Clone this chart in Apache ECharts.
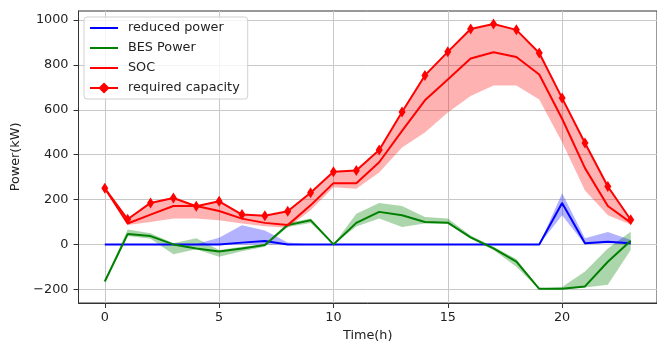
<!DOCTYPE html>
<html>
<head>
<meta charset="utf-8">
<script src="https://cdn.jsdelivr.net/npm/echarts@6/dist/echarts.min.js"></script>
<style>
  html, body { margin: 0; padding: 0; background: #fff; }
  #chart { width: 657px; height: 347px; }
</style>
</head>
<body>
<div id="chart"></div>
<script>
// hours of the day
const hours = [0, 1, 2, 3, 4, 5, 6, 7, 8, 9, 10, 11, 12, 13, 14, 15, 16, 17, 18, 19, 20, 21, 22, 23];

// reduced power (blue) and its band
const reducedPower = [0, 0, 0, 0, 0, 0, 8, 15, 0, 0, 0, 0, 0, 0, 0, 0, 0, 0, 0, 0, 185, 5, 12, 5];
const reducedLow = [0, 0, 0, 0, 0, 0, 0, 0, 0, 0, 0, 0, 0, 0, 0, 0, 0, 0, 0, 0, 130, 0, 5, 0];
const reducedHigh = [0, 0, 0, 0, 2, 30, 85, 62, 8, 0, 0, 0, 0, 0, 0, 0, 0, 0, 0, 0, 228, 28, 55, 20];

// BES power (green) and its band
const besPower = [-165, 46, 37, 0, -18, -32, -18, -3, 86, 108, 0, 96, 145, 130, 100, 97, 31, -18, -77, -198, -198, -187, -77, 16];
const besLow = [-168, 38, 25, -44, -22, -55, -30, -10, 78, 95, 0, 80, 115, 78, 93, 93, 25, -25, -99, -200, -200, -192, -180, -25];
const besHigh = [-160, 66, 50, 5, 27, -25, -10, 0, 95, 115, 0, 137, 185, 171, 122, 115, 40, -10, -65, -196, -190, -121, -18, 56];

// SOC (red) and required capacity (upper edge of the band)
const soc = [250, 93, 133, 171, 171, 149, 115, 96, 86, 174, 273, 273, 366, 506, 642, 735, 828, 856, 835, 757, 560, 340, 171, 97];
const socLow = [250, 86, 100, 115, 115, 108, 93, 81, 74, 152, 255, 248, 320, 432, 499, 588, 661, 708, 708, 646, 455, 240, 130, 89];
const requiredCapacity = [250, 112, 185, 207, 170, 192, 133, 128, 148, 230, 324, 329, 421, 590, 753, 858, 960, 982, 956, 853, 652, 452, 258, 110];

// tick labels
const xTicks = [0, 5, 10, 15, 20];
const yTicks = [-200, 0, 200, 400, 600, 800, 1000];

const font = "DejaVu Sans";
const pairs = arr => hours.map((h, i) => [h, arr[i]]);

function band(low, high, color) {
    return {
        type: "custom",
        silent: true,
        z: 1,
        data: [[0, 0]],
        renderItem: (params, api) => {
            const pts = [];
            hours.forEach((h, i) => pts.push(api.coord([h, high[i]])));
            for (let i = hours.length - 1; i >= 0; i--) {
                pts.push(api.coord([hours[i], low[i]]));
            }
            return {
                type: "polygon",
                shape: { points: pts },
                style: { fill: color }
            };
        }
    };
}

function line(name, arr, color, extra) {
    return Object.assign({
        type: "line",
        name: name,
        data: pairs(arr),
        showSymbol: false,
        symbol: "none",
        z: 3,
        lineStyle: { color: color, width: 2 },
        itemStyle: { color: color },
        emphasis: { disabled: true },
        animation: false
    }, extra || {});
}

// plain line in the legend, no marker
const noMark = { color: "rgba(0,0,0,0)", opacity: 0, borderWidth: 0 };

const chart = echarts.init(document.getElementById("chart"));
chart.setOption({
    animation: false,
    grid: {
        left: 78.5,
        top: 11,
        width: 590,
        height: 294,
        show: true,
        borderColor: "#333",
        borderWidth: 1,
        backgroundColor: "transparent"
    },
    legend: {
        left: 84,
        top: 17,
        orient: "vertical",
        padding: [4, 8, 4, 5],
        itemGap: 6,
        itemWidth: 28,
        itemHeight: 14,
        backgroundColor: "rgba(255,255,255,0.8)",
        borderColor: "#d0d0d0",
        borderWidth: 1,
        borderRadius: 3,
        textStyle: { fontFamily: font, fontSize: 12.8, color: "#222", lineHeight: 14, padding: [0, 0, 0, 5] },
        data: [
            { name: "reduced power", itemStyle: noMark },
            { name: "BES Power", itemStyle: noMark },
            { name: "SOC", itemStyle: noMark },
            { name: "required capacity" }
        ]
    },
    xAxis: {
        type: "value",
        min: -1.15,
        max: 24.15,
        name: "Time(h)",
        nameLocation: "middle",
        nameGap: 26,
        nameTextStyle: { fontFamily: font, fontSize: 12.8, color: "#222" },
        axisLine: { show: true, onZero: false, lineStyle: { color: "#333", width: 1 } },
        axisTick: { show: true, length: 5, customValues: xTicks, lineStyle: { color: "#333" } },
        axisLabel: { customValues: xTicks, margin: 8, fontFamily: font, fontSize: 12.8, color: "#222" },
        splitLine: { show: true, lineStyle: { color: "#c8c8c8", width: 1 } }
    },
    yAxis: {
        type: "value",
        min: -261,
        max: 1040,
        name: "Power(kW)",
        nameLocation: "middle",
        nameGap: 44,
        nameTextStyle: { fontFamily: font, fontSize: 12.8, color: "#222" },
        axisLine: { show: true, onZero: false, lineStyle: { color: "#333", width: 1 } },
        axisTick: { show: true, length: 5, customValues: yTicks, lineStyle: { color: "#333" } },
        axisLabel: {
            customValues: yTicks,
            margin: 10,
            fontFamily: font,
            fontSize: 12.8,
            color: "#222",
            formatter: v => (v < 0 ? "\u2212" + Math.abs(v) : String(v))
        },
        splitLine: { show: true, lineStyle: { color: "#c8c8c8", width: 1 } }
    },
    series: [
        band(socLow, requiredCapacity, "rgba(255,0,0,0.3)"),
        band(besLow, besHigh, "rgba(0,128,0,0.33)"),
        band(reducedLow, reducedHigh, "rgba(0,0,255,0.3)"),
        line("reduced power", reducedPower, "#0000ff"),
        line("BES Power", besPower, "#008000"),
        line("SOC", soc, "#ff0000"),
        line("required capacity", requiredCapacity, "#ff0000", {
            showSymbol: true,
            symbol: "diamond",
            symbolSize: [7, 11]
        })
    ]
});
</script>
</body>
</html>
